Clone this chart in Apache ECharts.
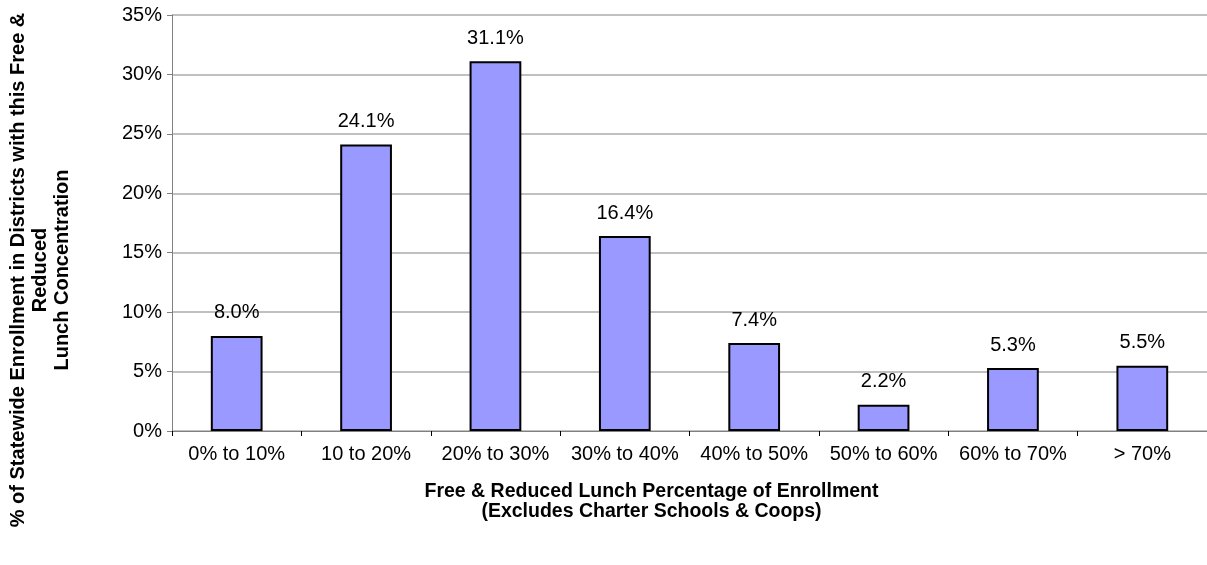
<!DOCTYPE html>
<html><head><meta charset="utf-8">
<script src="https://cdn.jsdelivr.net/npm/echarts@6/dist/echarts.min.js"></script>
<style>html,body{margin:0;padding:0;background:#fff}#c{width:1207px;height:565px}</style>
</head><body><div id="c"></div>
<script>
var categories = ['0% to 10%','10 to 20%','20% to 30%','30% to 40%','40% to 50%','50% to 60%','60% to 70%','> 70%'];
var values = [8.0, 24.1, 31.1, 16.4, 7.4, 2.2, 5.3, 5.5];
var yTicks = [0,5,10,15,20,25,30,35];
var chart = echarts.init(document.getElementById('c'));
var F = 'Arial, "Liberation Sans", sans-serif';
chart.setOption({
  animation:false,
  grid:{left:172,right:-8,top:15,bottom:134,containLabel:false},
  xAxis:{type:'category',data:categories,
    axisLine:{lineStyle:{color:'#808080',width:1}},
    axisTick:{show:true,length:5,lineStyle:{color:'#000'}},
    axisLabel:{color:'#000',fontSize:20,fontFamily:F,margin:13,interval:0},
    name:'Free & Reduced Lunch Percentage of Enrollment\n(Excludes Charter Schools & Coops)',
    nameLocation:'middle',nameGap:51,
    nameTextStyle:{color:'#000',fontSize:19.5,fontWeight:'bold',fontFamily:F,lineHeight:20,padding:[0,0,0,-76]}
  },
  yAxis:{type:'value',min:0,max:35,interval:5,
    axisLine:{show:true,lineStyle:{color:'#808080'}},
    axisTick:{show:true,length:5,lineStyle:{color:'#808080'}},
    splitLine:{lineStyle:{color:'#c0c0c0',width:2}},
    axisLabel:{color:'#000',fontSize:20,fontFamily:F,margin:10,formatter:function(v){return v+'%';}}
  },
  graphic:[{type:'text',rotation:Math.PI/2,
    x:40,y:270,
    style:{text:'% of Statewide Enrollment in Districts with this Free &\nReduced\nLunch Concentration',
      fill:'#000',font:'bold 20px '+F,align:'center',verticalAlign:'middle',lineHeight:22}}],
  series:[{type:'bar',data:values,barWidth:'40%',
    itemStyle:{color:'#9999FF',borderColor:'#000',borderWidth:2},
    label:{show:true,position:'top',distance:13,color:'#000',fontSize:20,fontFamily:F,
      formatter:function(p){return p.value.toFixed(1)+'%';}}
  }]
});
</script></body></html>
